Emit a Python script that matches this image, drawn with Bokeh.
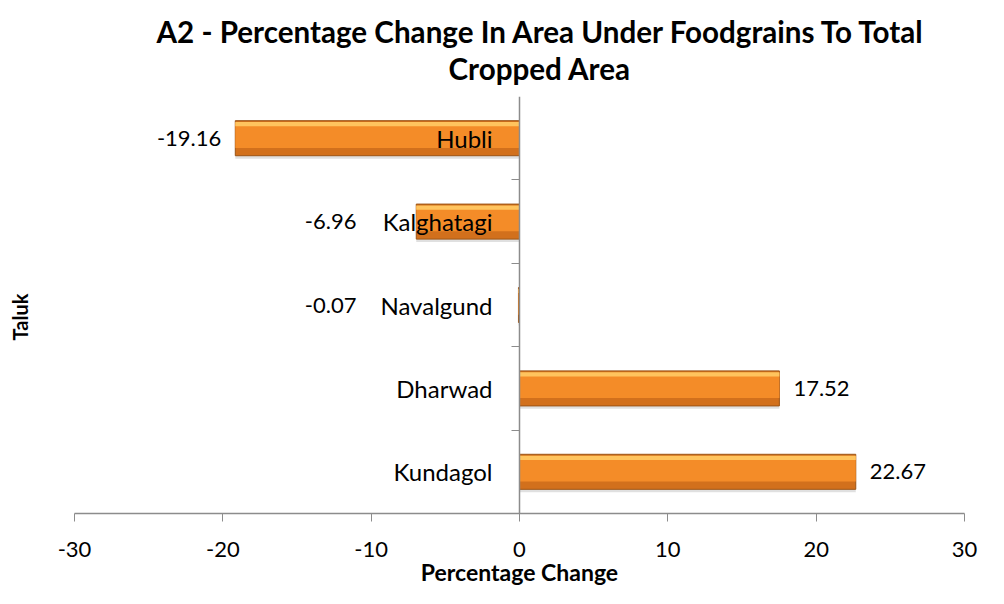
import numpy as np
from bokeh.plotting import figure
from bokeh.models import ColumnDataSource, Range1d, FixedTicker, Title, LinearAxis
from bokeh.transform import dodge
from bokeh.core.properties import value
from bokeh.embed import file_html
from bokeh.resources import INLINE

# ---- data ----
talukas = ["Hubli", "Kalghatagi", "Navalgund", "Dharwad", "Kundagol"]
pct_change = [-19.16, -6.96, -0.07, 17.52, 22.67]
x_ticks = [-30, -20, -10, 0, 10, 20, 30]
title_lines = ["A2 - Percentage Change In Area Under Foodgrains To Total", "Cropped Area"]
x_title = "Percentage Change"
y_title = "Taluk"

# ---- layout / style ----
FONT = "Lato"
W, H = 988, 588
ML, MR, MT, MB = 74, 24, 96, 75
frame_w = W - ML - MR
ppu = frame_w / (x_ticks[-1] - x_ticks[0])
CAT_CLEAR = 163     # px left of zero that negative value labels must keep clear of
VAL_PAD = 14
TITLE_OFFSETS = [82, 374]
TITLE_STANDOFFS = [-20.5, 20.5]
Y_TITLE_GAP = 43    # px between plot frame and the y title box

n = len(talukas)
ypos = [n - 1 - i for i in range(n)]
labels = [f"{v:.2f}" for v in pct_change]

neg = dict(y=[], v=[], lab=[], off=[])
pos = dict(y=[], v=[], lab=[], off=[])
for yy, v, lab in zip(ypos, pct_change, labels):
    if v < 0:
        end_px = v * ppu
        neg["y"].append(yy); neg["v"].append(v); neg["lab"].append(lab)
        neg["off"].append(min(end_px - VAL_PAD, -CAT_CLEAR) - end_px)
    else:
        pos["y"].append(yy); pos["v"].append(v); pos["lab"].append(lab)
        pos["off"].append(VAL_PAD)

src = ColumnDataSource(dict(y=ypos, v=pct_change, name=talukas))
src_neg = ColumnDataSource(neg)
src_pos = ColumnDataSource(pos)

p = figure(width=W, height=H, x_range=Range1d(x_ticks[0], x_ticks[-1]),
           y_range=Range1d(-0.5, n - 0.5), output_backend="svg", title=None,
           toolbar_location=None, min_border_left=ML, min_border_right=MR,
           min_border_top=MT, min_border_bottom=MB,
           background_fill_color="white", border_fill_color="white")
p.styles = {"box-shadow": "-2px -2px 0 0 #9a9a9a"}
p.outline_line_color = None
p.xgrid.visible = False
p.ygrid.visible = False

# title, two lines (first added sits nearest the plot)
for line, off, so in reversed(list(zip(title_lines, TITLE_OFFSETS, TITLE_STANDOFFS))):
    p.add_layout(Title(text=line, align="left", offset=off, standoff=so,
                       text_font=FONT, text_font_size="29.6px", text_font_style="bold",
                       text_color="black"), "above")

# x axis
xa = p.xaxis[0]
xa.ticker = FixedTicker(ticks=x_ticks)
xa.major_label_overrides = {t: str(t) for t in x_ticks}
xa.axis_line_color = "#8c8c8c"
xa.axis_line_width = 1.5
xa.major_tick_line_color = "#8c8c8c"
xa.major_tick_in = 0
xa.major_tick_out = 8
xa.minor_tick_line_color = None
xa.major_label_standoff = 20
xa.major_label_text_font = FONT
xa.major_label_text_font_size = "22px"
xa.major_label_text_color = "black"
xa.axis_label = x_title
xa.axis_label_standoff = -2
xa.axis_label_text_font = FONT
xa.axis_label_text_font_size = "23px"
xa.axis_label_text_font_style = "bold"
xa.axis_label_text_color = "black"

# y axis at zero
ya = p.yaxis[0]
ya.fixed_location = 0
ya.ticker = FixedTicker(ticks=[i + 0.5 for i in range(n - 1)])
ya.axis_line_color = "#8c8c8c"
ya.axis_line_width = 1.5
ya.major_tick_line_color = "#8c8c8c"
ya.major_tick_in = 0
ya.major_tick_out = 8
ya.minor_tick_line_color = None
ya.major_label_text_color = None
ya.major_label_text_font_size = "1px"

# invisible spacer axis pushing the y title out to the left edge
spacer = LinearAxis(ticker=FixedTicker(ticks=[(n - 1) / 2]), axis_line_color=None,
                    major_tick_line_color=None, minor_tick_line_color=None,
                    major_tick_in=0, major_tick_out=Y_TITLE_GAP, minor_tick_out=0,
                    major_label_standoff=0, major_label_text_color=None,
                    major_label_text_font_size="1px")
p.add_layout(spacer, "left")
p.add_layout(Title(text=y_title, align="left", offset=173, standoff=0,
                   text_font=FONT, text_font_size="20px", text_font_style="bold",
                   text_color="black"), "left")

BH = 0.42
# shadow
p.hbar(y=dodge("y", -0.035), height=BH, left=0, right="v", source=src,
       fill_color="#000000", fill_alpha=0.12, line_color=None)
# base (dark lower part)
p.hbar(y="y", height=BH, left=0, right="v", source=src,
       fill_color="#d2701c", line_color="#9c5516", line_width=1)
# main body
p.hbar(y=dodge("y", 0.035), height=BH * 0.72, left=0, right="v", source=src,
       fill_color="#f48c28", line_color=None)
# top highlight
p.hbar(y=dodge("y", BH * 0.40), height=BH * 0.12, left=0, right="v", source=src,
       fill_color="#ffc45e", line_color=None)

# category labels
p.text(x=0, y="y", text="name", source=src, x_offset=-27,
       text_align="right", text_baseline="middle",
       text_font=value(FONT), text_font_size="24px", text_color="black")

# value labels
p.text(x="v", y="y", text="lab", source=src_neg, x_offset="off",
       text_align="right", text_baseline="middle",
       text_font=value(FONT), text_font_size="22px", text_color="black")
p.text(x="v", y="y", text="lab", source=src_pos, x_offset="off",
       text_align="left", text_baseline="middle",
       text_font=value(FONT), text_font_size="22px", text_color="black")

open("out.html", "w").write(file_html(p, INLINE))
